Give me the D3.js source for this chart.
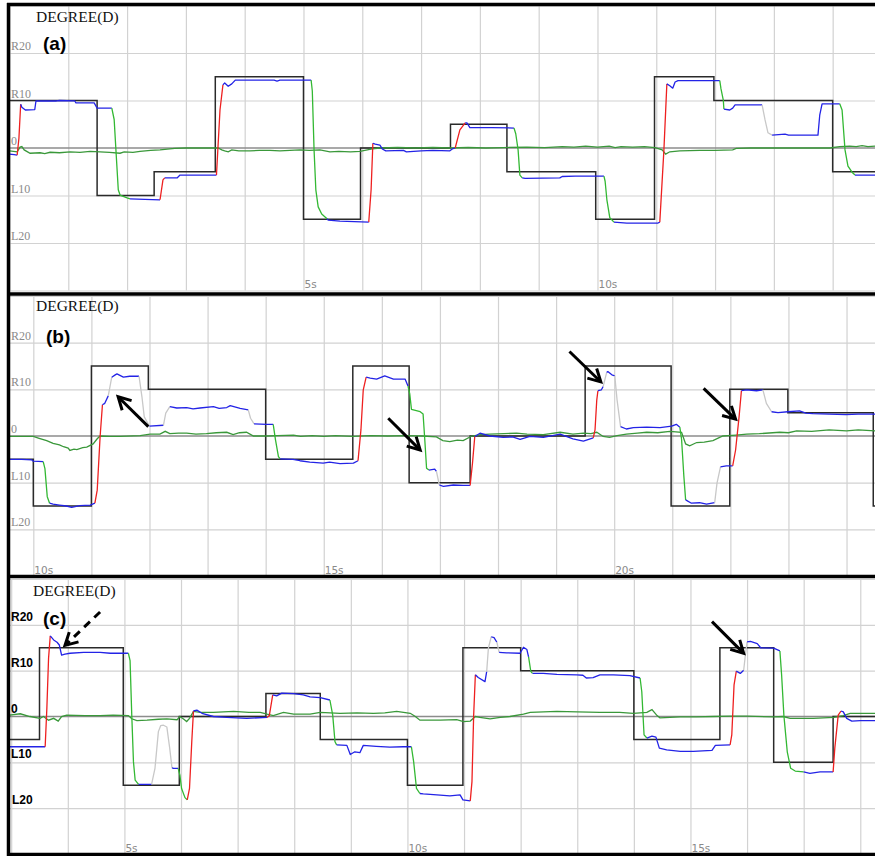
<!DOCTYPE html>
<html>
<head>
<meta charset="utf-8">
<script src="https://cdn.jsdelivr.net/npm/d3@7"></script>
<style>
body { margin: 0; background: #fff; }
</style>
</head>
<body>
<div id="chart-area"></div>
<script>
// ---- data (time in s, angle in degrees; R = positive, L = negative) ----
var panelNames = ["(a)", "(b)", "(c)"];
var axisTitle = "DEGREE(D)";
var tickValues = [-20, -10, 0, 10, 20];
var tickLabels = ["L20", "L10", "0", "R10", "R20"];
var timeSpans = [[0, 14.72], [9.59, 24.49], [2.97, 18.26]];

// target (black step line): [start time, level]
var stepsA = [[0,10],[1.49,-10],[2.46,-5],[3.5,15],[5.0,-15],[5.97,0],[7.5,5],[8.46,-5],[9.97,-15],[10.97,15],[11.98,10],[14.0,-5]];
var stepsB = [[9.59,-5],[10,-15],[11,15],[11.98,10],[14,-5],[15.5,15],[16.47,-10],[17.52,0],[19.5,15],[20.98,-15],[21.99,10],[22.99,5],[24.46,-15]];
var stepsC = [[2.97,-5],[3.5,15],[4.98,-15],[5.97,0],[7.5,5],[8.46,-5],[10,-15],[10.98,15],[12,10],[14,-5],[15.52,15],[16.47,-10],[17.52,0]];

// tracking trace: [time, angle, phase of the segment ending here]
// B = holding, R = moving right, F = moving left, G = unconfirmed
var traceA = [[0,-1.3,"B"],[0.08,-1.4,"B"],[0.13,-1.5,"B"],[0.16,2,"R"],[0.19,9.2,"R"],[0.21,8.6,"B"],[0.27,8.0,"B"],[0.43,8.1,"B"],[0.45,9.9,"B"],[0.8,9.9,"B"],[0.85,10.0,"B"],[1.11,9.9,"B"],[1.13,9.5,"B"],[1.44,9.5,"B"],[1.49,8.4,"B"],[1.74,8.4,"B"],[1.78,6,"F"],[1.81,-0.4,"F"],[1.85,-8.8,"F"],[1.88,-9.9,"F"],[2.0,-10.5,"F"],[2.05,-10.7,"F"],[2.3,-10.8,"B"],[2.56,-10.9,"B"],[2.61,-6.7,"R"],[2.64,-6.3,"R"],[2.85,-6.3,"B"],[2.9,-5.7,"B"],[3.52,-5.7,"B"],[3.58,8,"R"],[3.63,13.3,"R"],[3.66,13.7,"B"],[3.72,13.0,"B"],[3.78,13.5,"B"],[3.84,14.3,"B"],[4.5,14.3,"B"],[4.55,14.1,"B"],[4.6,14.3,"B"],[5.13,14.3,"B"],[5.15,12,"F"],[5.18,-0.4,"F"],[5.21,-8.8,"F"],[5.25,-12.4,"F"],[5.31,-13.9,"F"],[5.4,-14.9,"F"],[5.42,-15.2,"B"],[5.62,-15.4,"B"],[6.11,-15.6,"B"],[6.15,-8.8,"R"],[6.18,1.0,"R"],[6.22,0.8,"B"],[6.3,0.6,"B"],[6.34,-0.2,"B"],[6.4,-0.6,"B"],[6.7,-0.5,"B"],[6.75,-0.8,"B"],[7.0,-0.6,"B"],[7.2,-0.5,"B"],[7.49,-0.6,"B"],[7.53,-0.2,"B"],[7.58,0,"B"],[7.66,3.8,"R"],[7.75,5.3,"R"],[7.78,5.3,"B"],[7.83,4.3,"B"],[8.2,4.3,"B"],[8.58,4.2,"B"],[8.61,3,"F"],[8.65,-0.4,"F"],[8.68,-5.7,"F"],[8.72,-6.3,"F"],[8.77,-6.4,"B"],[9.36,-6.3,"B"],[9.4,-6.0,"B"],[9.62,-5.9,"B"],[10.11,-5.9,"B"],[10.13,-7,"F"],[10.16,-10.9,"F"],[10.21,-14.7,"F"],[10.28,-15.6,"F"],[10.5,-15.8,"B"],[10.72,-15.8,"B"],[11.03,-15.8,"B"],[11.06,-15.6,"B"],[11.13,-0.4,"R"],[11.18,13.5,"R"],[11.23,13.1,"B"],[11.28,12.6,"B"],[11.32,13.9,"B"],[11.37,14.2,"B"],[12.08,14.2,"B"],[12.1,12.5,"F"],[12.14,10.1,"F"],[12.15,8.2,"F"],[12.25,8.0,"B"],[12.3,8.4,"B"],[12.34,9.1,"B"],[12.8,9.1,"B"],[12.85,5.9,"G"],[12.9,3.2,"G"],[12.97,2.7,"G"],[13.19,2.9,"B"],[13.25,2.7,"B"],[13.75,2.7,"B"],[13.78,6.9,"B"],[13.82,9.3,"B"],[14.12,9.3,"B"],[14.16,8,"F"],[14.21,-0.4,"F"],[14.26,-3.8,"F"],[14.33,-5.1,"F"],[14.38,-5.7,"F"],[14.72,-5.7,"B"]];

var traceB = [[9.59,-5.0,"B"],[9.8,-5.0,"B"],[9.97,-5.1,"B"],[10.0,-5.4,"B"],[10.17,-5.5,"B"],[10.2,-7,"F"],[10.24,-13,"F"],[10.28,-14.4,"F"],[10.34,-14.6,"B"],[10.45,-14.8,"B"],[10.57,-15.0,"B"],[10.66,-15.3,"B"],[10.8,-14.9,"B"],[10.98,-14.8,"B"],[11.06,-14.4,"B"],[11.1,-11.6,"R"],[11.15,-0.1,"R"],[11.19,6.7,"R"],[11.23,7.0,"B"],[11.29,8.6,"B"],[11.32,10.6,"G"],[11.35,12.6,"G"],[11.41,13.1,"B"],[11.44,13.3,"B"],[11.55,12.6,"B"],[11.66,12.8,"B"],[11.82,12.8,"B"],[11.87,8.4,"G"],[11.91,4.1,"G"],[12.0,2.1,"G"],[12.24,2.3,"B"],[12.28,4.9,"G"],[12.35,6.3,"G"],[12.47,6.0,"B"],[12.64,6.1,"B"],[12.75,5.8,"B"],[12.87,6.0,"B"],[13.1,6.3,"B"],[13.2,5.9,"B"],[13.33,6.1,"B"],[13.39,6.5,"B"],[13.56,5.9,"B"],[13.7,5.6,"B"],[13.74,3.8,"G"],[13.8,2.6,"G"],[14.02,2.5,"B"],[14.13,2.5,"B"],[14.17,-0.9,"F"],[14.22,-4.4,"F"],[14.25,-4.9,"F"],[14.47,-5.0,"B"],[14.59,-5.3,"B"],[14.76,-5.6,"B"],[14.99,-5.8,"B"],[15.1,-5.6,"B"],[15.28,-5.9,"B"],[15.51,-5.8,"B"],[15.59,-5.3,"B"],[15.64,1.3,"R"],[15.68,9.9,"R"],[15.73,12.6,"R"],[15.8,12.4,"B"],[15.91,12.2,"B"],[16.05,12.9,"B"],[16.2,12.2,"B"],[16.4,12.2,"B"],[16.45,10.7,"B"],[16.48,9.1,"F"],[16.51,5.7,"F"],[16.66,5.2,"F"],[16.71,4.7,"F"],[16.74,-0.9,"F"],[16.77,-6.9,"F"],[16.81,-7.3,"F"],[16.91,-7.1,"B"],[16.94,-7.6,"B"],[16.99,-10.5,"G"],[17.06,-10.8,"B"],[17.23,-10.5,"B"],[17.4,-10.6,"B"],[17.52,-10.6,"B"],[17.56,-5.9,"R"],[17.6,-0.1,"R"],[17.69,0.6,"B"],[17.86,0,"B"],[18.09,-0.3,"B"],[18.25,-0.2,"B"],[18.38,-0.7,"B"],[18.55,-0.1,"B"],[18.78,-0.3,"B"],[19.07,0.4,"B"],[19.29,-0.6,"B"],[19.47,-1.1,"B"],[19.64,-0.4,"B"],[19.67,1.3,"R"],[19.7,7.7,"R"],[19.72,9.7,"R"],[19.78,9.9,"B"],[19.81,10.6,"B"],[19.87,13.6,"G"],[19.89,13.8,"B"],[19.96,13.1,"B"],[20.01,12.9,"B"],[20.05,7.7,"G"],[20.11,2.0,"G"],[20.21,1.5,"B"],[20.33,1.8,"B"],[20.56,1.9,"B"],[20.79,1.8,"B"],[20.99,2.1,"B"],[21.07,2.5,"B"],[21.13,1.9,"B"],[21.16,-0.7,"F"],[21.2,-8.7,"F"],[21.23,-13.7,"F"],[21.33,-14.4,"B"],[21.47,-14.3,"B"],[21.59,-14.6,"B"],[21.73,-14.3,"B"],[21.77,-10.1,"G"],[21.83,-6.6,"G"],[21.93,-6.4,"B"],[22.04,-6.4,"B"],[22.09,-3.0,"R"],[22.15,4.1,"R"],[22.19,9.7,"R"],[22.28,9.9,"B"],[22.45,9.7,"B"],[22.56,9.9,"B"],[22.62,7.0,"G"],[22.71,5.2,"G"],[22.82,5.0,"B"],[22.99,5.2,"B"],[23.19,5.4,"B"],[23.3,4.9,"B"],[23.42,4.8,"B"],[23.7,4.7,"B"],[23.99,4.6,"B"],[24.2,4.7,"B"],[24.49,4.7,"B"]];

var traceC = [[2.97,-6.6,"B"],[3.3,-6.6,"B"],[3.6,-6.6,"B"],[3.63,1.8,"R"],[3.66,12.7,"R"],[3.69,17.6,"R"],[3.75,16.7,"B"],[3.81,16.2,"B"],[3.85,15.6,"B"],[3.89,13.4,"B"],[3.95,13.6,"B"],[4.04,13.8,"B"],[4.28,14.0,"B"],[4.57,14.0,"B"],[4.75,13.8,"B"],[5.07,13.8,"B"],[5.1,12.2,"F"],[5.13,0.3,"F"],[5.16,-9.9,"F"],[5.19,-13.9,"F"],[5.25,-14.8,"F"],[5.31,-14.8,"B"],[5.48,-14.8,"B"],[5.54,-11.3,"G"],[5.6,-3.3,"G"],[5.64,-2.0,"G"],[5.69,-1.9,"G"],[5.75,-2.3,"G"],[5.8,-6.9,"G"],[5.84,-11.2,"G"],[5.87,-11.3,"B"],[5.95,-11.3,"B"],[5.98,-12.8,"F"],[6.01,-15.7,"F"],[6.07,-17.7,"F"],[6.11,-18.2,"F"],[6.15,-15.7,"R"],[6.19,-5.5,"R"],[6.22,1.2,"R"],[6.28,1.4,"B"],[6.37,0.7,"B"],[6.57,0,"B"],[6.81,-0.2,"B"],[7.16,-0.4,"B"],[7.52,-0.2,"B"],[7.56,0.2,"R"],[7.62,4.7,"R"],[7.69,4.5,"B"],[7.78,5.1,"B"],[7.99,5.0,"B"],[8.16,4.7,"B"],[8.28,4.3,"B"],[8.46,4.1,"B"],[8.63,3.6,"B"],[8.68,0.3,"F"],[8.72,-5.5,"F"],[8.75,-6.2,"F"],[8.93,-6.3,"B"],[8.99,-8.3,"B"],[9.07,-7.7,"B"],[9.16,-7.9,"B"],[9.22,-6.3,"B"],[9.45,-6.5,"B"],[9.69,-6.7,"B"],[9.93,-6.6,"B"],[10.07,-6.6,"B"],[10.11,-9.9,"F"],[10.16,-15.7,"F"],[10.22,-16.8,"F"],[10.28,-16.9,"B"],[10.52,-17.1,"B"],[10.75,-17.3,"B"],[10.93,-17.1,"B"],[10.98,-18.2,"B"],[11.11,-18.4,"B"],[11.14,-14.2,"R"],[11.17,0.3,"R"],[11.2,9.1,"R"],[11.25,8.5,"B"],[11.37,7.6,"B"],[11.4,9.8,"B"],[11.43,14.9,"G"],[11.48,17.4,"G"],[11.53,17.2,"B"],[11.58,16.2,"B"],[11.62,14.0,"G"],[11.75,13.9,"B"],[11.99,13.8,"B"],[12.05,15.1,"B"],[12.11,14.6,"B"],[12.14,13.0,"B"],[12.18,9.8,"F"],[12.21,9.4,"F"],[12.4,9.4,"B"],[12.64,9.2,"B"],[12.99,9.1,"B"],[13.1,9.0,"B"],[13.16,8.4,"B"],[13.28,8.5,"B"],[13.4,9.1,"B"],[13.64,9.1,"B"],[13.93,8.9,"B"],[14.11,8.4,"B"],[14.14,5.4,"F"],[14.18,-4.0,"F"],[14.23,-4.7,"F"],[14.32,-4.3,"B"],[14.39,-4.5,"B"],[14.45,-6.9,"B"],[14.58,-7.3,"B"],[14.82,-7.6,"B"],[15.05,-7.6,"B"],[15.38,-7.4,"B"],[15.44,-6.3,"B"],[15.7,-6.2,"B"],[15.73,-4.0,"R"],[15.77,6.9,"R"],[15.81,9.9,"R"],[15.88,9.4,"B"],[15.94,10.1,"B"],[15.97,13.4,"G"],[16.0,16.3,"G"],[16.06,16.4,"B"],[16.18,15.9,"B"],[16.24,15.0,"B"],[16.47,14.9,"B"],[16.58,14.3,"B"],[16.61,9.1,"F"],[16.65,0.3,"F"],[16.71,-7.7,"F"],[16.77,-11.3,"F"],[16.85,-11.9,"F"],[17.0,-12.1,"F"],[17.11,-12.4,"B"],[17.29,-12.1,"B"],[17.52,-12.1,"B"],[17.55,-6.9,"R"],[17.61,0.3,"R"],[17.66,1.2,"R"],[17.7,1.0,"B"],[17.76,-0.4,"B"],[17.85,-1.0,"B"],[18.0,-0.9,"B"],[18.26,-0.9,"B"]];

// second (green) channel, close to zero
var driftA = [[0,-0.6],[0.13,-0.8],[0.18,0.2],[0.21,0.3],[0.25,-0.4],[0.35,-1.1],[0.52,-1.0],[0.6,-1.2],[0.69,-0.9],[0.85,-1.0],[1.03,-0.8],[1.2,-0.9],[1.37,-0.7],[1.54,-0.8],[1.7,-0.9],[1.88,-1.1],[1.95,-0.8],[2.1,-0.9],[2.22,-0.7],[2.4,-0.5],[2.56,-0.4],[2.81,-0.1],[3.0,0],[3.24,0],[3.55,0],[3.61,-0.4],[3.66,-0.6],[3.72,-0.8],[3.78,-0.4],[3.9,-0.6],[4.09,-0.6],[4.25,-0.5],[4.43,-0.5],[4.6,-0.6],[4.94,-0.4],[5.1,-0.5],[5.28,-0.4],[5.45,-0.8],[5.6,-0.7],[5.8,-0.8],[5.96,-0.7],[6.17,-0.2],[6.3,0],[6.6,0.1],[6.9,0.0],[7.2,0.1],[7.5,0],[7.8,0.1],[8.1,0],[8.4,0.1],[8.8,0.2],[9.1,0.1],[9.4,0.3],[9.6,0.2],[9.8,0.4],[10.0,0.2],[10.2,0.4],[10.3,0.1],[10.4,0.3],[10.6,0.2],[10.8,0.3],[10.98,0.1],[11.1,-0.4],[11.16,-1.3],[11.23,-0.8],[11.4,-0.6],[11.74,-0.5],[12.0,-0.5],[12.3,-0.4],[12.36,-0.1],[12.6,0],[13.0,0],[13.4,0],[13.95,0],[14.12,0.3],[14.29,0.4],[14.4,0.3],[14.5,0.5],[14.6,0.3],[14.72,0.4]];
var driftB = [[9.59,-0.1],[9.77,-0.1],[10.0,-0.1],[10.1,-0.5],[10.23,-1.0],[10.34,-1.6],[10.45,-1.9],[10.52,-2.3],[10.6,-2.6],[10.63,-3.1],[10.7,-2.8],[10.75,-2.9],[10.85,-2.5],[10.92,-2.4],[11.03,-1.7],[11.1,-0.6],[11.15,0],[11.32,-0.1],[11.49,-0.1],[11.84,0.1],[12.01,0.4],[12.18,0.4],[12.27,1.0],[12.35,0.5],[12.5,0.6],[12.64,0.6],[12.8,0.4],[12.98,0.5],[13.15,0.7],[13.33,0.8],[13.44,0.3],[13.55,0.7],[13.67,0.8],[13.79,0],[14.02,0],[14.2,0.1],[14.48,0.2],[14.6,-0.1],[14.8,0.1],[15.0,-0.1],[15.2,0.1],[15.5,-0.1],[15.8,0.1],[16.1,0],[16.4,0.1],[16.7,0],[16.94,-0.2],[17.05,-1.0],[17.17,-1.2],[17.3,-0.9],[17.4,-1.0],[17.55,0],[17.7,0.3],[17.86,0.4],[18.1,0.5],[18.32,0.6],[18.5,0.4],[18.78,0.3],[19.07,0.8],[19.29,0.4],[19.47,0.6],[19.6,0.5],[19.7,0.8],[19.81,-0.1],[19.92,-0.3],[20.05,0.1],[20.21,0.4],[20.4,0.6],[20.56,0.8],[20.75,0.7],[20.96,1.0],[21.16,0.8],[21.23,-1.7],[21.3,-2.1],[21.42,-1.4],[21.55,-1.3],[21.7,-1.0],[21.87,0],[22.1,0.2],[22.28,0.4],[22.5,0.5],[22.85,0.8],[23.0,0.7],[23.14,1.1],[23.4,1.0],[23.7,1.3],[24.0,1.1],[24.2,1.3],[24.49,1.1]];
var driftC = [[2.97,0.3],[3.16,0.6],[3.33,0],[3.51,-0.4],[3.57,0],[3.66,-0.8],[3.75,-0.4],[3.83,-1.0],[3.89,0],[3.98,0.3],[4.3,0.2],[4.57,0.2],[4.8,0.3],[5.07,0.2],[5.13,-0.5],[5.22,-0.9],[5.4,-0.8],[5.6,-0.6],[5.75,-0.5],[5.93,-0.7],[5.98,0],[6.05,-0.6],[6.1,-1.1],[6.15,-0.4],[6.22,1.1],[6.34,0.9],[6.57,0.9],[6.75,1.0],[6.93,1.1],[7.2,0.9],[7.4,0.9],[7.52,0.5],[7.63,0.2],[7.81,0.9],[7.99,0.5],[8.28,0.5],[8.46,0.9],[8.81,0.7],[9.11,0.8],[9.4,0.7],[9.6,0.8],[9.81,1.1],[10.05,0.7],[10.14,0],[10.22,-0.8],[10.58,-0.8],[10.87,-0.7],[10.99,-1.1],[11.11,-1.0],[11.2,0],[11.28,-0.2],[11.46,-0.5],[11.64,-0.2],[11.81,0],[12.05,0.5],[12.17,0.9],[12.64,1.1],[13.0,1.0],[13.4,0.9],[13.75,0.9],[13.99,0.7],[14.23,0.9],[14.32,1.5],[14.41,0.2],[14.46,-0.3],[14.82,-0.1],[15.1,-0.1],[15.41,0],[15.7,0.1],[16.0,0.1],[16.47,-0.1],[16.64,0],[16.76,-0.4],[17.17,-0.4],[17.53,-0.2],[17.7,0.2],[17.82,0.7],[18.0,0.7],[18.26,0.7]];

// annotation arrows: [tail t, tail deg, head t, head deg, dashed]
var arrowsA = [];
var arrowsB = [[11.98,2.0,11.46,8.4,false],[16.11,3.8,16.66,-3.0,false],[19.23,18.1,19.77,11.6,false],[21.54,10.2,22.09,3.6,false]];
var arrowsC = [[4.57,22.8,3.95,15.5,true],[15.38,20.7,15.94,13.8,false]];

// ---- layout ----
var W = 875, H = 856, left = 9.5;
var phaseColor = { B: "#2323e6", R: "#ee2020", F: "#33b833", G: "#c8c8c8" };

var panels = [
    { steps: stepsA, trace: traceA, drift: driftA, arrows: arrowsA, yr: [290.5, 5.5], bold: false, title: [36, 22], name: [43, 49.5] },
    { steps: stepsB, trace: traceB, drift: driftB, arrows: arrowsB, yr: [576, 296], bold: false, title: [36, 311], name: [46, 342.5] },
    { steps: stepsC, trace: traceC, drift: driftC, arrows: arrowsC, yr: [854, 579], bold: true, title: [33, 596], name: [43, 625] }
];

var svg = d3.select("#chart-area")
    .append("svg")
    .attr("width", W)
    .attr("height", H)
    .style("display", "block");

panels.forEach(function(p, i) {
    var span = timeSpans[i];
    var x = d3.scaleLinear().domain(span).range([left, W]);
    var y = d3.scaleLinear().domain([-30, 30]).range(p.yr);
    var top = p.yr[1], bottom = p.yr[0];

    svg.append("clipPath").attr("id", "clip" + i)
        .append("rect")
        .attr("x", left).attr("y", top)
        .attr("width", W - left).attr("height", bottom - top);

    var g = svg.append("g");

    // vertical grid, one line per second
    var secs = d3.range(Math.ceil(span[0]), Math.floor(span[1]) + 1);
    g.append("g")
        .attr("class", "grid")
        .attr("transform", "translate(0," + bottom + ")")
        .call(d3.axisBottom(x).tickValues(secs).tickSize(-(bottom - top)).tickFormat(""));

    // horizontal grid, every 10 degrees
    g.append("g")
        .attr("class", "grid")
        .attr("transform", "translate(" + left + ",0)")
        .call(d3.axisLeft(y).tickValues([-30, -20, -10, 10, 20, 30]).tickSize(-(W - left)).tickFormat(""));

    g.selectAll(".grid .domain").remove();
    g.selectAll(".grid line").attr("stroke", "#d2d2d2").attr("stroke-width", 1.2);

    var plot = g.append("g").attr("clip-path", "url(#clip" + i + ")");

    // zero line
    plot.append("line")
        .attr("x1", left).attr("x2", W)
        .attr("y1", y(0)).attr("y2", y(0))
        .attr("stroke", "#8c8c8c")
        .attr("stroke-width", 1.6);

    // target steps
    var stepPts = p.steps.concat([[span[1], p.steps[p.steps.length - 1][1]]]);
    plot.append("path")
        .datum(stepPts)
        .attr("fill", "none")
        .attr("stroke", "#2a2a2a")
        .attr("stroke-width", 1.5)
        .attr("d", d3.line().curve(d3.curveStepAfter)
            .x(function(d) { return x(d[0]); })
            .y(function(d) { return y(d[1]); }));

    var line = d3.line()
        .x(function(d) { return x(d[0]); })
        .y(function(d) { return y(d[1]); });

    // second channel
    plot.append("path")
        .datum(p.drift)
        .attr("fill", "none")
        .attr("stroke", "#3a983a")
        .attr("stroke-width", 1.3)
        .attr("d", line);

    // tracking trace split into runs of one phase
    var runs = [];
    for (var k = 1; k < p.trace.length; k++) {
        var c = p.trace[k][2];
        if (!runs.length || runs[runs.length - 1].c !== c) {
            runs.push({ c: c, pts: [p.trace[k - 1]] });
        }
        runs[runs.length - 1].pts.push(p.trace[k]);
    }
    plot.selectAll(".run")
        .data(runs)
        .enter()
        .append("path")
        .attr("class", "run")
        .attr("fill", "none")
        .attr("stroke", function(d) { return phaseColor[d.c]; })
        .attr("stroke-width", 1.3)
        .attr("stroke-linejoin", "round")
        .attr("d", function(d) { return line(d.pts); });

    // arrows
    p.arrows.forEach(function(a) {
        var x1 = x(a[0]), y1 = y(a[1]), x2 = x(a[2]), y2 = y(a[3]);
        var ang = Math.atan2(y2 - y1, x2 - x1), L = 14, s = 0.5;
        g.append("line")
            .attr("x1", x1).attr("y1", y1)
            .attr("x2", x2 - 2 * Math.cos(ang)).attr("y2", y2 - 2 * Math.sin(ang))
            .attr("stroke", "#000")
            .attr("stroke-width", 3)
            .attr("stroke-dasharray", a[4] ? "8,6" : null);
        g.append("path")
            .attr("d", "M" + (x2 - L * Math.cos(ang - s)) + "," + (y2 - L * Math.sin(ang - s)) +
                "L" + x2 + "," + y2 +
                "L" + (x2 - L * Math.cos(ang + s)) + "," + (y2 - L * Math.sin(ang + s)))
            .attr("fill", "none")
            .attr("stroke", "#000")
            .attr("stroke-width", 3)
            .attr("stroke-linejoin", "miter");
    });

    // degree labels above their grid lines
    g.selectAll(".deg")
        .data(tickValues)
        .enter()
        .append("text")
        .attr("x", function(d) { return d === -20 && p.bold ? 12 : 11; })
        .attr("y", function(d) { return y(d) - (p.bold ? 4 : 3); })
        .attr("font-family", p.bold ? "'Liberation Sans', Arial, sans-serif" : "'Liberation Serif', 'Times New Roman', serif")
        .attr("font-weight", p.bold ? "bold" : "normal")
        .attr("font-size", "12px")
        .attr("fill", p.bold ? "#000" : "#8a8a8a")
        .text(function(d, j) { return tickLabels[j]; });

    // time labels every 5 s (not at the left edge)
    var fives = secs.filter(function(s) { return s % 5 === 0 && x(s) > left + 5; });
    g.selectAll(".time")
        .data(fives)
        .enter()
        .append("text")
        .attr("x", function(d) { return x(d) + 1; })
        .attr("y", bottom - 2.5)
        .attr("font-family", "'DejaVu Sans', sans-serif")
        .attr("font-size", "10.5px")
        .attr("fill", "#8a8a8a")
        .text(function(d) { return d + "s"; });

    g.append("text")
        .attr("x", p.title[0])
        .attr("y", p.title[1])
        .attr("font-family", "'Liberation Serif', 'Times New Roman', serif")
        .attr("font-size", "15.5px")
        .attr("fill", "#111")
        .text(axisTitle);

    g.append("text")
        .attr("x", p.name[0])
        .attr("y", p.name[1])
        .attr("font-family", "'Liberation Sans', Arial, sans-serif")
        .attr("font-weight", "bold")
        .attr("font-size", "19px")
        .attr("fill", "#000")
        .text(panelNames[i]);
});

// panel frames
[4.5, 294, 576.5, 854.5].forEach(function(yy) {
    svg.append("line")
        .attr("x1", 7).attr("x2", W)
        .attr("y1", yy).attr("y2", yy)
        .attr("stroke", "#000")
        .attr("stroke-width", 3.5);
});
svg.append("line")
    .attr("x1", 8.5).attr("x2", 8.5)
    .attr("y1", 3).attr("y2", 856)
    .attr("stroke", "#000")
    .attr("stroke-width", 3.5);
</script>
</body>
</html>
